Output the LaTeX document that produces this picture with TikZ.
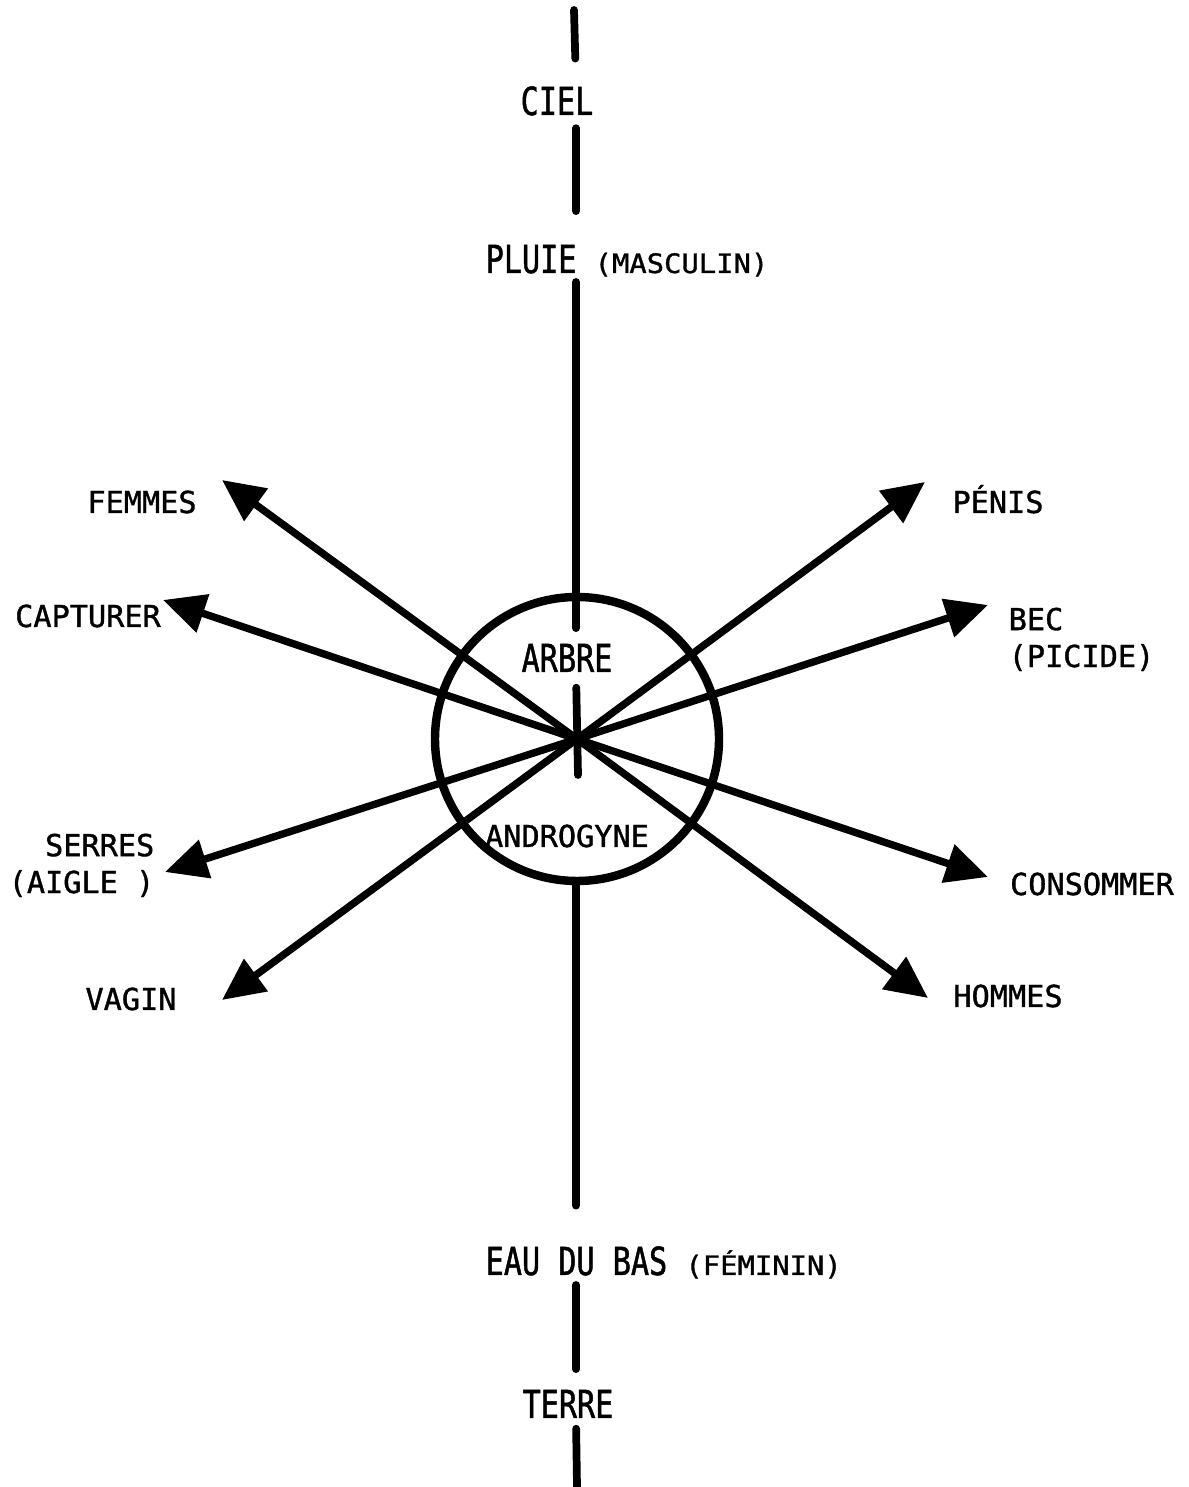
\documentclass[tikz,border=0pt]{standalone}
\usepackage{fontspec}
\usetikzlibrary{arrows.meta}
\newfontfamily\lettrefont[FakeBold=1.2]{DejaVu Sans Mono}
\newfontfamily\grandfont[FakeStretch=0.78,FakeBold=1.2]{DejaVu Sans Mono}
\newfontfamily\parenfont[FakeStretch=1.08,FakeBold=1.2]{DejaVu Sans Mono}
\newcommand{\entreparen}[1]{{\parenfont\fontsize{7.6}{9}\selectfont(#1)}}

\begin{document}
\begin{tikzpicture}[>={Triangle[length=12pt,width=11pt]}, line cap=round,
  axe/.style={line width=2.2pt},
  fleche/.style={->, line width=2.1pt},
  grand/.style={font=\grandfont\fontsize{11}{13}\selectfont, inner sep=0pt},
  petit/.style={font=\lettrefont\fontsize{8.6}{10.5}\selectfont, inner sep=0pt}]
\useasboundingbox (0,0) rectangle (11.88,14.87);
% 中心与轴
\coordinate (c) at (5.77,7.48);
\coordinate (ax) at (5.76,0);
\coordinate (haut) at (5.74,14.77);
\coordinate (pied) at (5.78,7.12);
\coordinate (bas) at (5.77,0);
% 圆
\node[draw, circle, line width=2.4pt, minimum size=2.84cm, inner sep=0pt] (rond) at (c) {};
% 纵轴上的标签
\node[grand, anchor=base] (ciel) at (5.57,13.72) {CIEL};
\node[grand, anchor=base west] (pluie) at (4.85,12.14) {PLUIE \entreparen{MASCULIN}};
\node[grand, anchor=base] (arbre) at (5.67,8.15) {ARBRE};
\node[petit, anchor=base] (androgyne) at (5.67,6.40) {ANDROGYNE};
\node[grand, anchor=base west] (eau) at (4.85,2.12) {EAU DU BAS \entreparen{FÉMININ}};
\node[grand, anchor=base] (terre) at (5.68,0.69) {TERRE};
% 纵轴
\draw[axe, shorten >=0.27cm] (haut) -- (ax |- ciel.north);
\draw[axe, shorten <=0.12cm, shorten >=0.33cm] (ax |- ciel.south) -- (ax |- pluie.north);
\draw[axe, shorten <=0.09cm, shorten >=0.15cm] (ax |- pluie.base) -- (ax |- arbre.north);
\draw[axe, shorten <=0.15cm] (ax |- arbre.south) -- (pied);
\draw[axe, shorten >=0.40cm] (ax |- rond.south) -- (ax |- eau.north);
\draw[axe, shorten <=0.10cm, shorten >=0.20cm] (ax |- eau.base) -- (ax |- terre.north);
\draw[axe, shorten <=0.10cm] (ax |- terre.south) -- (bas);
% 箭头端点
\coordinate (femmes-p) at (2.22,10.07);
\coordinate (capturer-p) at (1.63,8.87);
\coordinate (serres-p) at (1.65,6.15);
\coordinate (vagin-p) at (2.22,4.87);
\coordinate (penis-p) at (9.25,10.05);
\coordinate (bec-p) at (9.88,8.82);
\coordinate (consommer-p) at (9.88,6.10);
\coordinate (hommes-p) at (9.28,4.89);
% 箭头
\draw[fleche] (c) -- (femmes-p);
\draw[fleche] (c) -- (capturer-p);
\draw[fleche] (c) -- (serres-p);
\draw[fleche] (c) -- (vagin-p);
\draw[fleche] (c) -- (penis-p);
\draw[fleche] (c) -- (bec-p);
\draw[fleche] (c) -- (consommer-p);
\draw[fleche] (c) -- (hommes-p);
% 两侧标签
\node[petit, anchor=base] (femmes) at (1.42,9.74) {FEMMES};
\node[petit, anchor=base] (capturer) at (0.88,8.60) {CAPTURER};
\node[petit, align=right, anchor=north east] (serres) at (1.55,6.54) {SERRES\\(AIGLE )};
\node[petit, anchor=base] (vagin) at (1.31,4.77) {VAGIN};
\node[petit, anchor=base] (penis) at (9.98,9.74) {PÉNIS};
\node[petit, align=left, anchor=north west] (bec) at (10.08,8.80) {BEC\\(PICIDE)};
\node[petit, anchor=base] (consommer) at (10.92,5.92) {CONSOMMER};
\node[petit, anchor=base] (hommes) at (10.08,4.80) {HOMMES};
\end{tikzpicture}
\end{document}
